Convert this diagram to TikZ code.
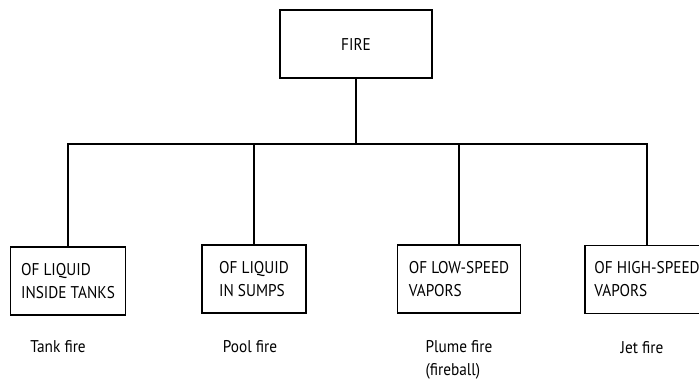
\documentclass[tikz,border=0pt]{standalone}
\usepackage{fontspec}
\setmainfont[FakeStretch=0.9]{PT Sans}
\usetikzlibrary{positioning}

\begin{document}
\begin{tikzpicture}[x=1pt, y=-1pt, line width=1.2pt,
  typebox/.style={draw, align=left, font=\fontsize{17}{23}\selectfont, minimum height=68pt, inner xsep=0pt},
  firename/.style={align=left, font=\fontsize{17}{23}\selectfont}]
\useasboundingbox (0,0) rectangle (699,383);

% Top box
\node[draw, minimum width=152pt, minimum height=68pt, font=\fontsize{17}{23}\selectfont] (fire) at (356,44) {FIRE};

% Kinds of fire
\node[typebox, minimum width=115pt] (tank) at (68,281) {OF LIQUID\\INSIDE TANKS};
\node[typebox, minimum width=104pt] (pool) at (254,279) {OF LIQUID\\IN SUMPS};
\node[typebox, minimum width=123pt] (plume) at (459,279) {OF LOW-SPEED\\VAPORS};
\node[typebox, minimum width=124pt] (jet) at (647,279.5) {OF HIGH-SPEED\\VAPORS};

% Tree lines
\coordinate (split) at (356,144);
\draw (fire) -- (split);
\draw (tank.north) |- (split) -| (jet.north);
\draw (pool.north) -- (pool.north |- split);
\draw (plume.north) -- (plume.north |- split);

% Names
\node[firename] (tankname) at (58,347) {Tank fire};
\node[firename] (poolname) at (250,347) {Pool fire};
\node[firename] (plumename) at (459,360) {Plume fire\\(fireball)};
\node[firename] (jetname) at (642,348) {Jet fire};

\end{tikzpicture}
\end{document}
